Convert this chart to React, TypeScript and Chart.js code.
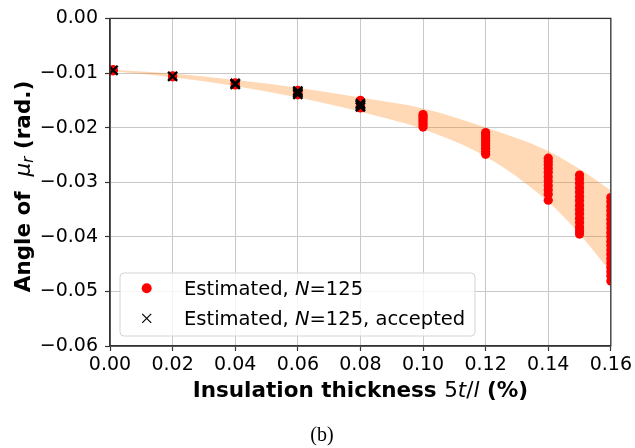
import React, { useEffect, useRef } from 'react';
import { Chart, registerables } from 'chart.js';

Chart.register(...registerables);

// ---- data ----
const bandX = [0.001, 0.02, 0.04, 0.06, 0.08, 0.1, 0.12, 0.14, 0.15, 0.16];
const bandUpper = [-0.0094, -0.0101, -0.0113, -0.0127, -0.0145, -0.0165, -0.02, -0.0243, -0.0276, -0.0315];
const bandLower = [-0.0097, -0.0108, -0.0124, -0.0145, -0.0171, -0.0203, -0.0253, -0.0336, -0.0395, -0.0465];

// Estimated angle values (N=125) per insulation thickness
const est000 = [-0.0094, -0.0095, -0.0096];
const est002 = [-0.0105, -0.0106, -0.0107];
const est004 = [-0.0118, -0.012, -0.0122];
const est006 = [-0.0132, -0.0134, -0.0136, -0.0138, -0.014];
const est008 = [-0.015, -0.0153, -0.0156, -0.0159, -0.0162, -0.0164];
const est010 = [-0.0176, -0.0179, -0.0183, -0.0187, -0.0191, -0.0195, -0.0199];
const est012 = [-0.0209, -0.0213, -0.0218, -0.0223, -0.0228, -0.0233, -0.0238, -0.0244, -0.0249];
const est014 = [-0.0256, -0.0262, -0.0268, -0.0275, -0.0282, -0.029, -0.0298, -0.0306, -0.0314, -0.0322, -0.0333];
const est015 = [-0.0287, -0.0294, -0.0302, -0.031, -0.0318, -0.0326, -0.0334, -0.0342, -0.035, -0.0358, -0.0366, -0.0374, -0.0382, -0.0389, -0.0395];
const est016 = [-0.0328, -0.0336, -0.0344, -0.0352, -0.036, -0.0368, -0.0376, -0.0384, -0.0392, -0.04, -0.0408, -0.0416, -0.0424, -0.0432, -0.044, -0.0448, -0.0456, -0.0464, -0.0472, -0.0481];

// Accepted estimates
const acc000 = [-0.0095];
const acc002 = [-0.0106];
const acc004 = [-0.0119, -0.0121];
const acc006 = [-0.0133, -0.0136, -0.0139];
const acc008 = [-0.0156, -0.0159, -0.0162];

const xTicks = [0, 0.02, 0.04, 0.06, 0.08, 0.1, 0.12, 0.14, 0.16];
const yTicks = [0, -0.01, -0.02, -0.03, -0.04, -0.05, -0.06];

const col = (x: number, ys: number[]) => ys.map((y) => ({ x, y }));

const estimatedPts = [
  ...col(0.001, est000), ...col(0.02, est002), ...col(0.04, est004), ...col(0.06, est006),
  ...col(0.08, est008), ...col(0.1, est010), ...col(0.12, est012), ...col(0.14, est014),
  ...col(0.15, est015), ...col(0.16, est016),
];
const acceptedPts = [
  ...col(0.001, acc000), ...col(0.02, acc002), ...col(0.04, acc004), ...col(0.06, acc006), ...col(0.08, acc008),
];

type Seg = { t: string; f: string; dy?: number };
const FAM = '"DejaVu Sans"';

function drawSegs(ctx: CanvasRenderingContext2D, segs: Seg[], x: number, y: number, align: 'left' | 'center') {
  ctx.textAlign = 'left';
  ctx.textBaseline = 'alphabetic';
  const widths = segs.map((s) => {
    ctx.font = s.f;
    return ctx.measureText(s.t).width;
  });
  const total = widths.reduce((a, b) => a + b, 0);
  let cx = align === 'center' ? x - total / 2 : x;
  segs.forEach((s, i) => {
    ctx.font = s.f;
    ctx.fillText(s.t, cx, y + (s.dy || 0));
    cx += widths[i];
  });
}

const decorPlugin = {
  id: 'decor',
  afterDatasetsDraw(chart: any) {
    const { ctx, chartArea } = chart;
    ctx.save();
    ctx.strokeStyle = '#333333';
    ctx.lineWidth = 1.3;
    ctx.strokeRect(chartArea.left, chartArea.top, chartArea.right - chartArea.left, chartArea.bottom - chartArea.top);
    ctx.restore();
  },
  afterDraw(chart: any) {
    const { ctx, chartArea } = chart;
    ctx.save();
    ctx.fillStyle = '#000000';
    const B = `bold 21.5px ${FAM}`;
    const R = `21.5px ${FAM}`;
    const I = `italic 21.5px ${FAM}`;
    // x title
    drawSegs(ctx, [
      { t: 'Insulation thickness ', f: B },
      { t: '5', f: R },
      { t: 't', f: I },
      { t: '/', f: R },
      { t: 'l', f: I },
      { t: ' (%)', f: B },
    ], (chartArea.left + chartArea.right) / 2, 397, 'center');
    // y title
    ctx.save();
    ctx.translate(29.5, 186.5);
    ctx.rotate(-Math.PI / 2);
    drawSegs(ctx, [
      { t: 'Angle of  ', f: B },
      { t: 'μ', f: I },
      { t: 'r', f: `italic 15px ${FAM}`, dy: 3.5 },
      { t: ' (rad.)', f: B },
    ], 0, 0, 'center');
    ctx.restore();

    // legend
    const lx = 120, ly = 273, lw = 355, lh = 63, r = 4;
    ctx.beginPath();
    ctx.moveTo(lx + r, ly);
    ctx.lineTo(lx + lw - r, ly);
    ctx.arcTo(lx + lw, ly, lx + lw, ly + r, r);
    ctx.lineTo(lx + lw, ly + lh - r);
    ctx.arcTo(lx + lw, ly + lh, lx + lw - r, ly + lh, r);
    ctx.lineTo(lx + r, ly + lh);
    ctx.arcTo(lx, ly + lh, lx, ly + lh - r, r);
    ctx.lineTo(lx, ly + r);
    ctx.arcTo(lx, ly, lx + r, ly, r);
    ctx.closePath();
    ctx.fillStyle = 'rgba(255,255,255,0.8)';
    ctx.fill();
    ctx.strokeStyle = '#d4d4d4';
    ctx.lineWidth = 1;
    ctx.stroke();

    ctx.fillStyle = '#ff0000';
    ctx.beginPath();
    ctx.arc(146.7, 288.3, 5, 0, Math.PI * 2);
    ctx.fill();

    ctx.strokeStyle = '#000000';
    ctx.lineWidth = 1.2;
    ctx.beginPath();
    ctx.moveTo(142.2, 313.8);
    ctx.lineTo(151.2, 322.8);
    ctx.moveTo(151.2, 313.8);
    ctx.lineTo(142.2, 322.8);
    ctx.stroke();

    ctx.fillStyle = '#000000';
    const LR = `19.5px ${FAM}`;
    const LI = `italic 19.5px ${FAM}`;
    drawSegs(ctx, [
      { t: 'Estimated, ', f: LR },
      { t: 'N', f: LI },
      { t: '=125', f: LR },
    ], 184, 295, 'left');
    drawSegs(ctx, [
      { t: 'Estimated, ', f: LR },
      { t: 'N', f: LI },
      { t: '=125, accepted', f: LR },
    ], 184, 325, 'left');

    // caption
    ctx.font = '20px "Liberation Serif"';
    ctx.textAlign = 'center';
    ctx.textBaseline = 'alphabetic';
    ctx.fillText('(b)', 322, 441);
    ctx.restore();
  },
};

export default function App() {
  const ref = useRef<HTMLCanvasElement | null>(null);
  useEffect(() => {
    if (!ref.current) return;
    const chart = new Chart(ref.current, {
      type: 'scatter',
      data: {
        datasets: [
          {
            label: 'Estimated, N=125, accepted',
            data: acceptedPts,
            pointStyle: 'crossRot',
            pointRadius: 6.4,
            pointBorderWidth: 2.4,
            borderColor: '#000000',
            backgroundColor: '#000000',
            showLine: false,
            clip: 0,
          } as any,
          {
            label: 'Estimated, N=125',
            data: estimatedPts,
            pointStyle: 'circle',
            pointRadius: 4.6,
            pointBorderWidth: 0,
            backgroundColor: '#ff0000',
            borderColor: '#ff0000',
            showLine: false,
            clip: 0,
          } as any,
          {
            label: 'band-upper',
            data: bandX.map((x, i) => ({ x, y: bandUpper[i] })),
            showLine: true,
            pointRadius: 0,
            borderWidth: 0,
            borderColor: 'rgba(0,0,0,0)',
            backgroundColor: 'rgba(255,127,14,0.3)',
            fill: '+1',
            cubicInterpolationMode: 'monotone',
            clip: 0,
          } as any,
          {
            label: 'band-lower',
            data: bandX.map((x, i) => ({ x, y: bandLower[i] })),
            showLine: true,
            pointRadius: 0,
            borderWidth: 0,
            borderColor: 'rgba(0,0,0,0)',
            fill: false,
            cubicInterpolationMode: 'monotone',
            clip: 0,
          } as any,
        ],
      },
      options: {
        responsive: false,
        animation: false,
        devicePixelRatio: 1,
        events: [],
        layout: { padding: { left: 0, right: 24, top: 17, bottom: 0 } },
        plugins: {
          legend: { display: false },
          tooltip: { enabled: false },
        },
        scales: {
          x: {
            type: 'linear',
            min: 0,
            max: 0.16,
            afterFit: (s: any) => { s.height = 102; },
            afterBuildTicks: (s: any) => { s.ticks = xTicks.map((v) => ({ value: v })); },
            ticks: {
              autoSkip: false,
              maxRotation: 0,
              padding: 3,
              color: '#000000',
              font: { family: 'DejaVu Sans', size: 19 },
              callback: (v: any) => Number(v).toFixed(2),
            },
            grid: { color: '#c8c8c8', lineWidth: 1, tickLength: 5, tickColor: '#333333', tickWidth: 1.2 },
            border: { display: true, color: '#333333', width: 1.3 },
            title: { display: false },
          },
          y: {
            type: 'linear',
            min: -0.06,
            max: 0,
            afterFit: (s: any) => { s.width = 110; },
            afterBuildTicks: (s: any) => { s.ticks = yTicks.map((v) => ({ value: v })); },
            ticks: {
              padding: 7,
              color: '#000000',
              font: { family: 'DejaVu Sans', size: 19 },
              callback: (v: any) => {
                const n = Number(v);
                return (n < -1e-9 ? '\u2212' : '') + Math.abs(n).toFixed(2);
              },
            },
            grid: { color: '#c8c8c8', lineWidth: 1, tickLength: 5, tickColor: '#333333', tickWidth: 1.2 },
            border: { display: true, color: '#333333', width: 1.3 },
            title: { display: false },
          },
        },
      } as any,
      plugins: [decorPlugin],
    });
    return () => chart.destroy();
  }, []);
  return (
    <div style={{ position: 'absolute', left: 0, top: 0, width: 635, height: 448, background: '#ffffff' }}>
      <canvas ref={ref} width={635} height={448} />
    </div>
  );
}
